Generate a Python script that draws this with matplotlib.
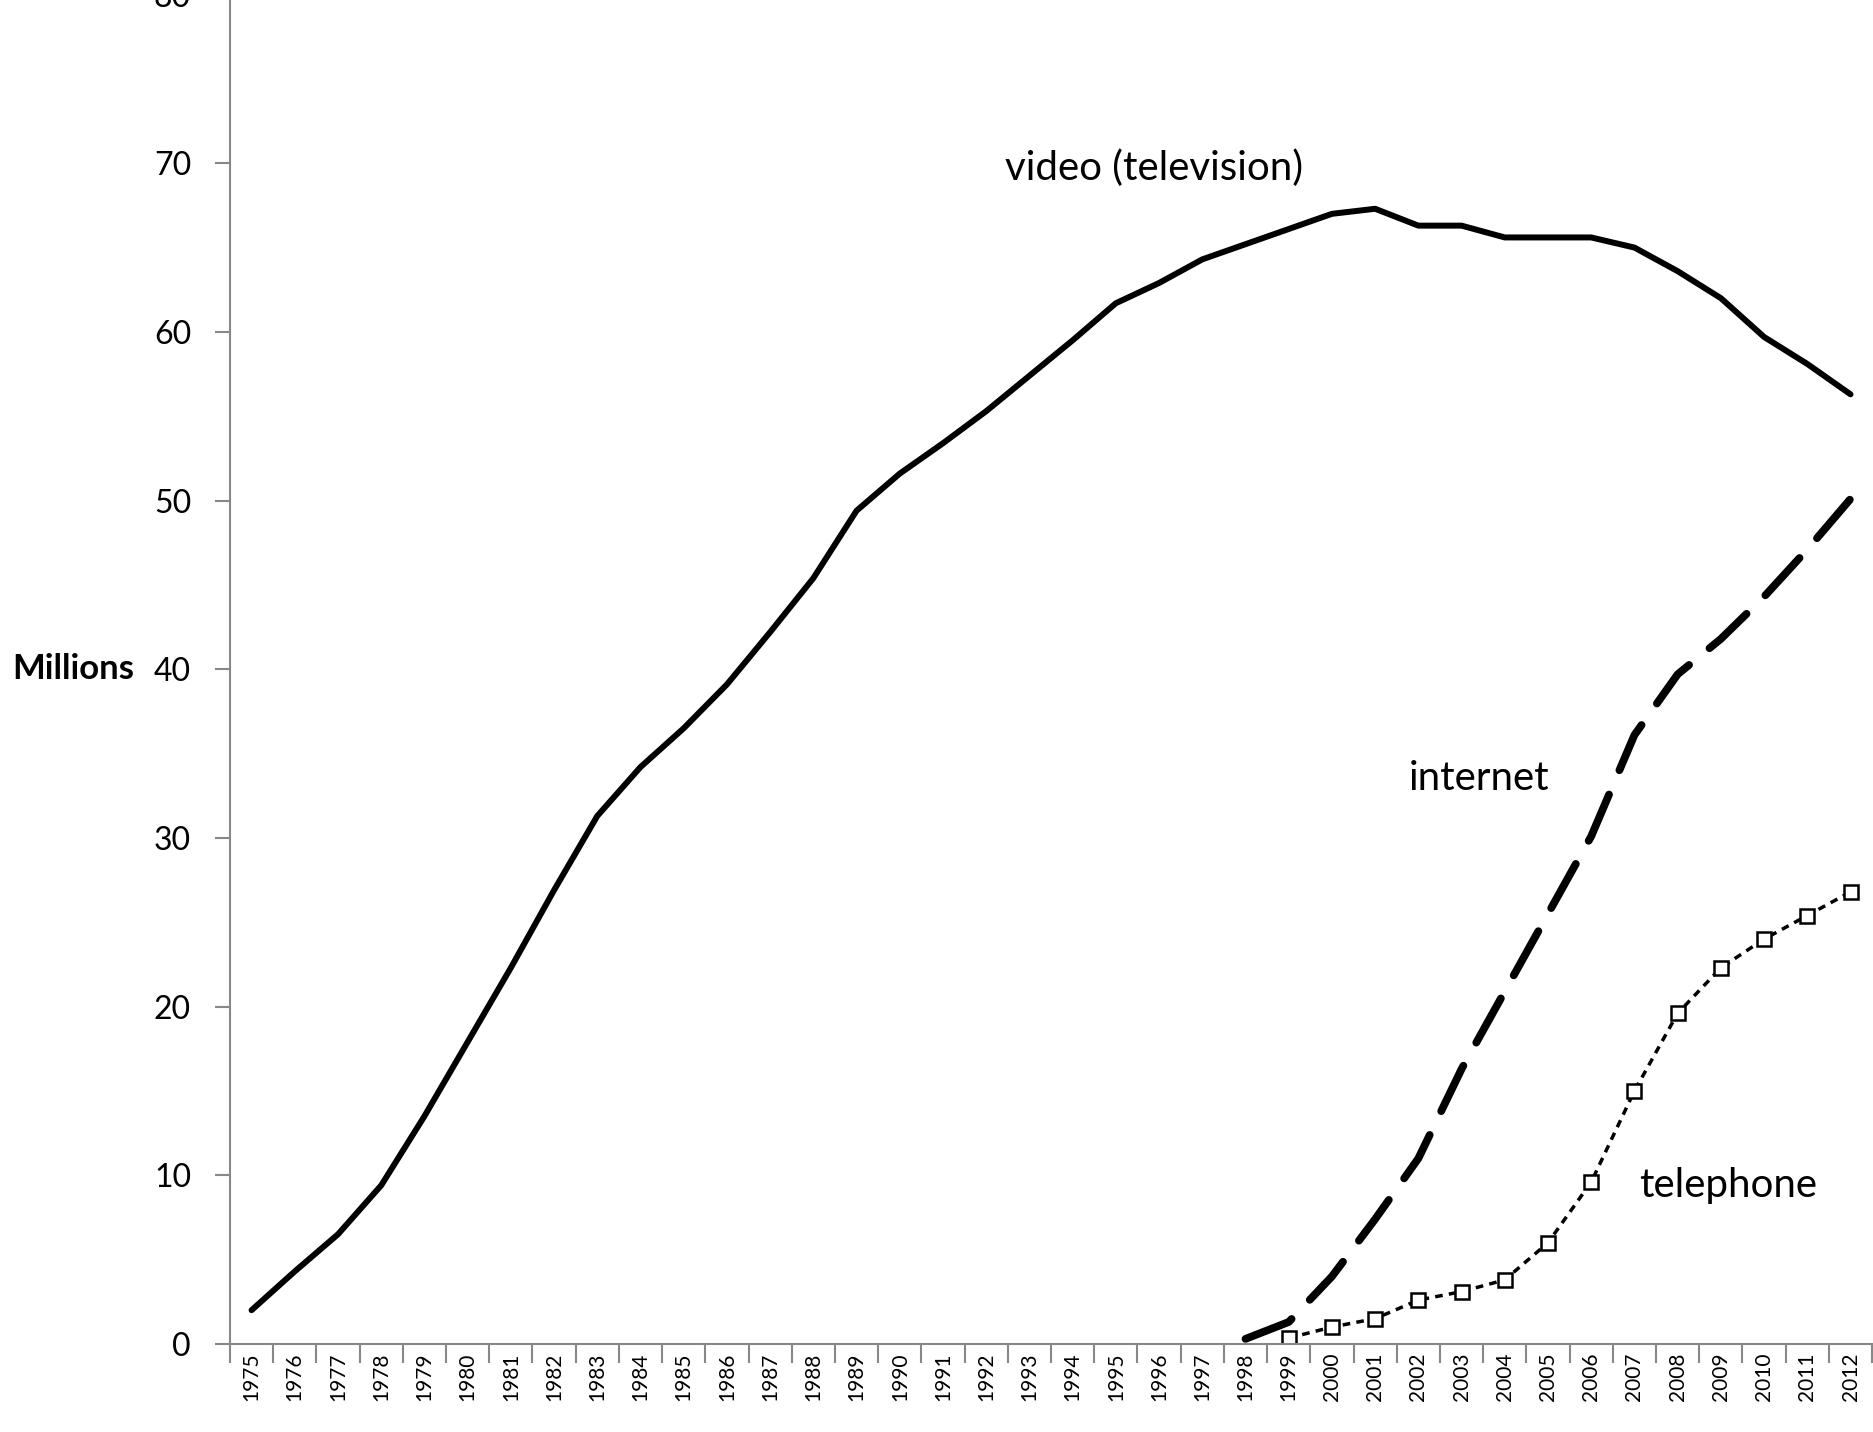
import matplotlib
matplotlib.use("Agg")
import matplotlib.pyplot as plt
import numpy as np

plt.rcParams["font.family"] = ["Lato", "DejaVu Sans"]

YEARS = [str(y) for y in range(1975, 2013)]

VIDEO = [2.0, 4.3, 6.5, 9.4, 13.5, 17.9, 22.3, 26.9, 31.3, 34.2,
         36.5, 39.1, 42.2, 45.4, 49.4, 51.6, 53.4, 55.3, 57.4, 59.5,
         61.7, 62.9, 64.3, 65.2, 66.1, 67.0, 67.3, 66.3, 66.3, 65.6,
         65.6, 65.6, 65.0, 63.6, 62.0, 59.7, 58.1, 56.3]

INTERNET_START = "1998"
INTERNET = [0.3, 1.3, 4.0, 7.4, 11.0, 16.3, 20.9, 25.5, 30.1, 36.1,
            39.7, 41.8, 44.3, 47.1, 50.1]

PHONE_START = "1999"
PHONE = [0.35, 1.0, 1.5, 2.6, 3.1, 3.8, 6.0, 9.6, 15.0, 19.6,
         22.3, 24.0, 25.4, 26.8]

# label text, year it sits over, y value, shift in categories
LABELS = [("video (television)", "1996", 69.7, -0.12),
          ("internet", "2003", 33.5, 0.4),
          ("telephone", "2009", 9.4, 0.17)]

fig = plt.figure(figsize=(18.74, 14.32), dpi=100)
ax = fig.add_axes([0.1227, 0.0615, 0.8763, 0.9423])

x = np.arange(len(YEARS))
i0 = YEARS.index(INTERNET_START)
p0 = YEARS.index(PHONE_START)

ax.plot(x, VIDEO, color="black", lw=4.3, solid_capstyle="round",
        solid_joinstyle="round")
ax.plot(x[i0:i0 + len(INTERNET)], INTERNET, color="black", lw=5.6,
        dashes=(6.5, 3.4), dash_capstyle="round")
ax.plot(x[p0:p0 + len(PHONE)], PHONE, color="black", lw=2.5,
        dashes=(2.2, 1.8), marker="s", ms=10.5, mfc="white", mec="black",
        mew=1.8)

for text, yr, yv, dx in LABELS:
    ax.text(YEARS.index(yr) + dx, yv, text, fontsize=29, ha="center",
            va="center", color="black")

ax.set_xlim(-0.5, len(YEARS) - 0.5)
ax.set_ylim(0, 80)
ax.set_yticks(range(0, 81, 10))
ax.set_xticks(x)
ax.set_xticklabels(YEARS, rotation=90, fontsize=15)
ax.set_xticks(np.arange(len(YEARS) + 1) - 0.5, minor=True)
ax.tick_params(axis="x", which="major", length=0, pad=6)
ax.tick_params(axis="x", which="minor", length=14, width=1.5,
               color="#888888", direction="out")
ax.tick_params(axis="y", length=11, width=1.5, color="#888888", pad=17,
               labelsize=23)

for side in ["top", "right"]:
    ax.spines[side].set_visible(False)
for side in ["left", "bottom"]:
    ax.spines[side].set_color("#888888")
    ax.spines[side].set_linewidth(1.5)

ax.set_ylabel("Millions", rotation=0, fontsize=25, fontweight="bold",
              ha="left", va="center")
ax.yaxis.set_label_coords(-0.1328, 0.5)

fig.savefig("out.png", dpi=100)
